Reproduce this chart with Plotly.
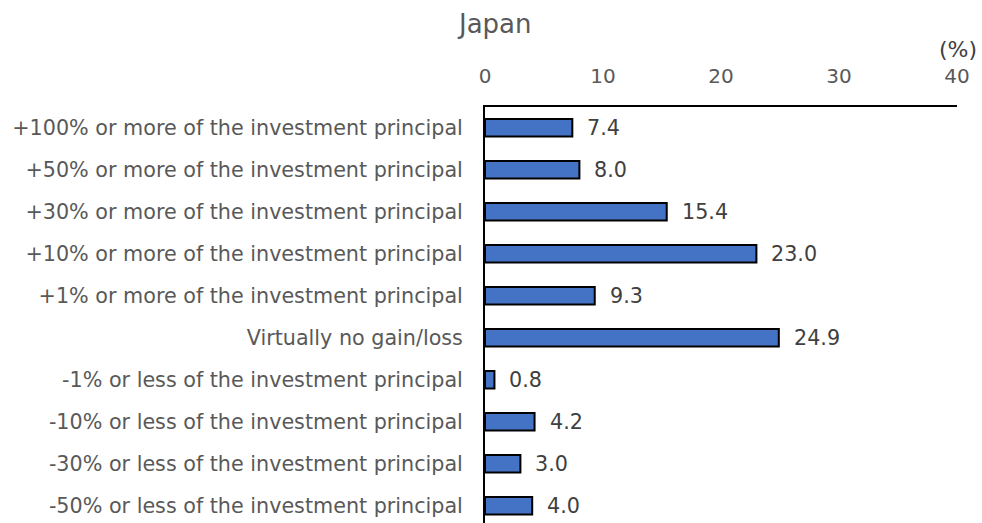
import plotly.graph_objects as go

# Expected investment outcome categories (top to bottom) and shares in %
categories = [
    "+100% or more of the investment principal",
    "+50% or more of the investment principal",
    "+30% or more of the investment principal",
    "+10% or more of the investment principal",
    "+1% or more of the investment principal",
    "Virtually no gain/loss",
    "-1% or less of the investment principal",
    "-10% or less of the investment principal",
    "-30% or less of the investment principal",
    "-50% or less of the investment principal",
]
values = [7.4, 8.0, 15.4, 23.0, 9.3, 24.9, 0.8, 4.2, 3.0, 4.0]
x_ticks = [0, 10, 20, 30, 40]

FONT = "DejaVu Sans"
GREY = "#595959"
DARK = "#404040"

idx = list(range(len(categories)))

fig = go.Figure()
fig.add_trace(go.Bar(
    x=values,
    y=idx,
    orientation="h",
    width=0.42,
    marker=dict(color="#4472C4", line=dict(color="#000000", width=2)),
    hoverinfo="skip",
))

# value labels to the right of each bar
for i, v in zip(idx, values):
    fig.add_annotation(
        x=v, y=i, text=f"{v:.1f}", showarrow=False,
        xanchor="left", yanchor="middle", xshift=13,
        font=dict(family=FONT, size=20.7, color=DARK),
    )

fig.add_annotation(
    xref="paper", yref="paper", x=0.02, y=1.0, yshift=83,
    text="Japan", showarrow=False, xanchor="center", yanchor="middle",
    font=dict(family=FONT, size=26, color=GREY),
)
fig.add_annotation(
    xref="paper", yref="paper", x=1.0, y=1.0, yshift=58, xshift=1,
    text="(%)", showarrow=False, xanchor="center", yanchor="middle",
    font=dict(family=FONT, size=22, color=DARK),
)

fig.update_layout(
    width=982, height=523,
    margin=dict(l=485, r=25, t=107, b=0),
    paper_bgcolor="white", plot_bgcolor="white",
    showlegend=False,
    font=dict(family=FONT, color=GREY),
    xaxis=dict(
        side="top", range=[0, 40], tickvals=x_ticks,
        ticktext=[str(t) for t in x_ticks],
        showgrid=False, zeroline=False,
        showline=True, linecolor="#000000", linewidth=2,
        ticks="", ticklabelstandoff=14,
        tickfont=dict(family=FONT, size=20, color=GREY),
    ),
    yaxis=dict(
        range=[9.41, -0.495], tickvals=idx, ticktext=categories,
        showgrid=False, zeroline=False,
        showline=True, linecolor="#000000", linewidth=2,
        ticks="", ticklabelstandoff=16,
        tickfont=dict(family=FONT, size=20.7, color=GREY),
    ),
)

fig.write_html("out.html")
